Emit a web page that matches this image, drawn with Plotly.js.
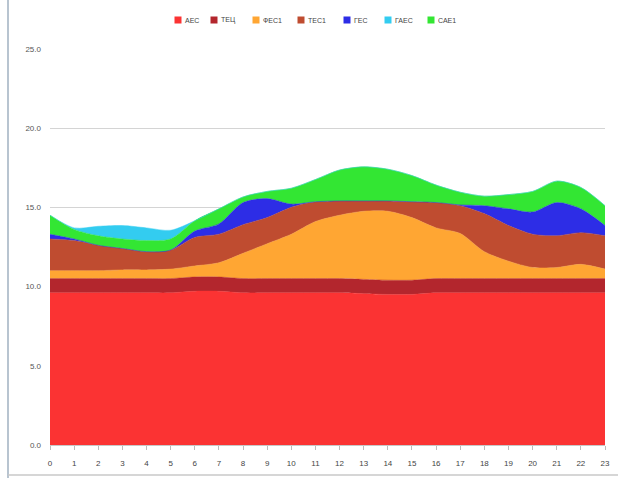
<!DOCTYPE html>
<html>
<head>
<meta charset="utf-8">
<script src="https://cdn.plot.ly/plotly-3.0.1.min.js"></script>
<style>
  html, body { margin: 0; padding: 0; background: #ffffff; }
  #chart { width: 618px; height: 478px; }
</style>
</head>
<body>
<div id="chart"></div>
<script>
// Hours of the day
const hours = [0,1,2,3,4,5,6,7,8,9,10,11,12,13,14,15,16,17,18,19,20,21,22,23];

// Generation by source, GW (stacked)
const aes   = [9.6,9.6,9.6,9.6,9.6,9.6,9.7,9.7,9.6,9.6,9.6,9.6,9.6,9.55,9.5,9.5,9.6,9.6,9.6,9.6,9.6,9.6,9.6,9.6];
const tets  = [0.9,0.9,0.9,0.9,0.9,0.9,0.9,0.9,0.9,0.9,0.9,0.9,0.9,0.9,0.9,0.9,0.9,0.9,0.9,0.9,0.9,0.9,0.9,0.9];
const fes1  = [0.5,0.5,0.5,0.55,0.55,0.6,0.7,0.9,1.6,2.2,2.8,3.6,4.0,4.3,4.35,3.95,3.2,2.85,1.7,1.1,0.7,0.7,0.9,0.6];
const tes1  = [2.0,1.9,1.6,1.35,1.15,1.2,1.8,1.8,1.8,1.65,1.7,1.25,0.9,0.65,0.65,1.0,1.6,1.75,2.4,2.25,2.1,2.0,2.0,2.1];
const ges   = [0.3,0.1,0,0,0,0,0.4,0.65,1.4,1.2,0.2,0,0,0,0,0,0,0.05,0.5,1.05,1.4,2.1,1.5,0.65];
const sae1  = [1.2,0.6,0.6,0.6,0.7,0.7,0.65,0.95,0.35,0.45,1.0,1.4,1.95,2.15,2.0,1.65,1.1,0.8,0.6,0.9,1.3,1.35,1.35,1.25];
const gaes  = [0,0.1,0.6,0.85,0.8,0.55,0,0,0,0,0,0,0,0,0,0,0,0,0,0,0,0,0,0];

const yTicks = [0, 5, 10, 15, 20, 25];

// Stack order bottom-to-top; legendX is where each key sits in the top legend row
const series = [
  { name: 'АЕС',  y: aes,  color: '#fb3333', legendX: 178 },
  { name: 'ТЕЦ',  y: tets, color: '#b3262d', legendX: 214 },
  { name: 'ФЕС1', y: fes1, color: '#ffa633', legendX: 256 },
  { name: 'ТЕС1', y: tes1, color: '#bf4c30', legendX: 301 },
  { name: 'ГЕС',  y: ges,  color: '#2d2de6', legendX: 347 },
  { name: 'САЕ1', y: sae1, color: '#33e633', legendX: 431 },
  { name: 'ГАЕС', y: gaes, color: '#33ccf0', legendX: 388 }
];

const traces = series.map(s => ({
  type: 'scatter',
  mode: 'lines',
  x: hours,
  y: s.y,
  name: s.name,
  stackgroup: 'gen',
  showlegend: false,
  line: { color: s.color, width: 0.5, shape: 'spline', smoothing: 0.8 },
  fillcolor: s.color,
  hoverinfo: 'x+y+name'
}));

// Plot-area geometry in pixels, used to place the legend row above it
const W = 618, H = 478, M = { l: 50, r: 13, t: 48, b: 33 };
const pw = W - M.l - M.r, ph = H - M.t - M.b;
const px2paperX = px => (px - M.l) / pw;
const px2paperY = py => (H - M.b - py) / ph;

const legendY = 20;
const keyShapes = series.map(s => ({
  type: 'rect', xref: 'paper', yref: 'paper',
  x0: px2paperX(s.legendX - 3.5), x1: px2paperX(s.legendX + 3.5),
  y0: px2paperY(legendY + 3.5), y1: px2paperY(legendY - 3.5),
  fillcolor: s.color, line: { width: 0 }
}));
const keyLabels = series.map(s => ({
  xref: 'paper', yref: 'paper',
  x: px2paperX(s.legendX + 5), y: px2paperY(legendY),
  xanchor: 'left', yanchor: 'middle',
  text: s.name, showarrow: false,
  font: { size: 7, color: '#444444' }
}));

const layout = {
  width: W,
  height: H,
  paper_bgcolor: '#ffffff',
  plot_bgcolor: '#ffffff',
  margin: M,
  font: { family: 'Liberation Sans, Arial, sans-serif', size: 8, color: '#555555' },
  showlegend: false,
  xaxis: {
    range: [0, 23],
    tickmode: 'array',
    tickvals: hours,
    ticktext: hours.map(String),
    ticks: 'outside',
    ticklen: 4,
    tickcolor: '#bbbbbb',
    ticklabelstandoff: 6,
    showgrid: false,
    zeroline: false,
    showline: true,
    linecolor: '#c8c8c8',
    linewidth: 1,
    tickfont: { size: 8, color: '#444444' },
    fixedrange: true
  },
  yaxis: {
    range: [0, 25.05],
    tickmode: 'array',
    tickvals: yTicks,
    ticktext: yTicks.map(v => v.toFixed(1)),
    showgrid: true,
    gridcolor: '#d4d4d4',
    gridwidth: 1,
    zeroline: false,
    showline: false,
    ticks: '',
    ticklabelstandoff: 8,
    tickfont: { size: 8, color: '#555555' },
    fixedrange: true
  },
  annotations: keyLabels,
  shapes: [
    // frame edges along the left and bottom of the canvas
    { type: 'line', xref: 'paper', yref: 'paper', x0: px2paperX(8), x1: px2paperX(8), y0: px2paperY(478), y1: px2paperY(0),
      line: { color: '#b8c4d0', width: 2 } },
    { type: 'line', xref: 'paper', yref: 'paper', x0: px2paperX(8), x1: px2paperX(618), y0: px2paperY(475), y1: px2paperY(475),
      line: { color: '#c8c8c8', width: 1.5 } }
  ].concat(keyShapes)
};

Plotly.newPlot('chart', traces, layout, { displayModeBar: false, staticPlot: true });
</script>
</body>
</html>
